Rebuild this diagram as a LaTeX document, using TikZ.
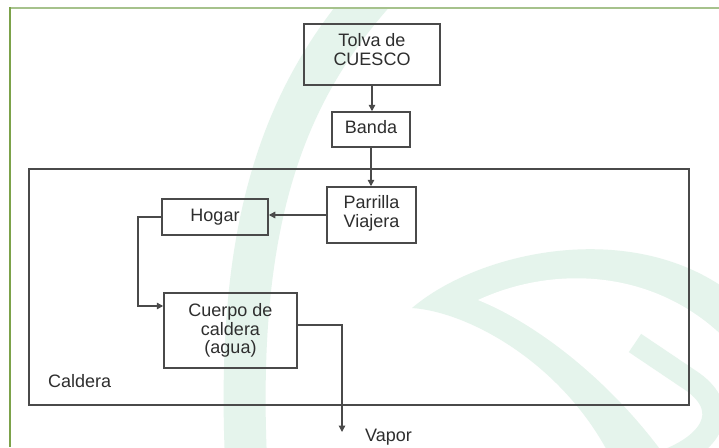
\documentclass[tikz,border=0pt]{standalone}
\usepackage{fontspec}
\setmainfont{Liberation Sans}
\usetikzlibrary{arrows.meta,calc}
\definecolor{wm}{HTML}{E5F4EC}
\definecolor{frametop}{HTML}{A6C28C}
\definecolor{frameleft}{HTML}{7CA24A}
\definecolor{boxline}{HTML}{4A4A4A}
\definecolor{txt}{HTML}{2E2E2E}
\begin{document}
\begin{tikzpicture}[x=1pt,y=-1pt,
  blk/.style={draw=boxline, line width=1.5pt, text=txt, align=center, inner sep=0pt,
    font=\fontsize{18}{18.6}\selectfont},
  outerbox/.style={draw=boxline, line width=1.5pt, inner sep=0pt},
  conn/.style={draw=boxline, line width=1.4pt, -{Triangle[length=6.5pt,width=6.5pt]}},
  lbl/.style={text=txt, inner sep=0pt, font=\fontsize{18}{18.6}\selectfont}]
\useasboundingbox (0,0) rectangle (719,447);
\fill[white] (0,0) rectangle (719,447);
% watermark
\begin{scope}
  \clip (11,9) rectangle (719,447);
  \draw[wm, line width=42pt] (372,-5) .. controls (280,100) and (236,230) .. (246,460);
  \fill[wm] (412,308) .. controls (480,250) and (640,215) .. (740,300) -- (740,460) -- (612,460)
     .. controls (565,365) and (470,312) .. cycle;
  \fill[white] (478,300) .. controls (560,262) and (670,270) .. (740,355) -- (740,460) -- (668,460)
     .. controls (615,385) and (540,325) .. cycle;
  \draw[wm, line width=22pt] (635,343) -- (690,380) .. controls (728,405) and (718,438) .. (672,458);
\end{scope}
% green frame
\draw[frametop, line width=2pt] (10,8) -- (719,8);
\draw[frameleft, line width=2pt] (10,7) -- (10,447);
% boxes
\node[outerbox, minimum width=660pt, minimum height=236pt] (caldera) at (359,287) {};
\node[blk, minimum width=136pt, minimum height=61pt, text depth=10pt] (tolva) at (372,54.5) {Tolva de\\CUESCO};
\node[blk, minimum width=78pt, minimum height=35pt, text depth=5pt] (banda) at (371,129.5) {Banda};
\node[blk, minimum width=89pt, minimum height=56pt, text depth=7pt] (parrilla) at (371.5,215) {Parrilla\\Viajera};
\node[blk, minimum width=106pt, minimum height=36pt] (hogar) at (215,217) {Hogar};
\node[blk, minimum width=133pt, minimum height=75pt] (cuerpo) at (230.5,330.5) {Cuerpo de\\caldera\\(agua)};
\node[lbl, anchor=west] (caldlbl) at (48,381) {Caldera};
\node[lbl, anchor=west] (vapor) at (365,437) {Vapor};
% connectors
\coordinate (hc) at (138,306);
\coordinate (vc) at (342,325);
\coordinate (vend) at (342,432);
\draw[conn] (tolva.south) -- (tolva.south |- banda.north);
\draw[conn] (banda.south) -- (banda.south |- parrilla.north);
\draw[conn] (parrilla.west) -- (parrilla.west -| hogar.east);
\draw[conn] (hogar.west) -- (hogar.west -| hc) -- (hc) -- (hc -| cuerpo.west);
\draw[conn] (vc -| cuerpo.east) -- (vc) -- (vend);
\end{tikzpicture}
\end{document}
